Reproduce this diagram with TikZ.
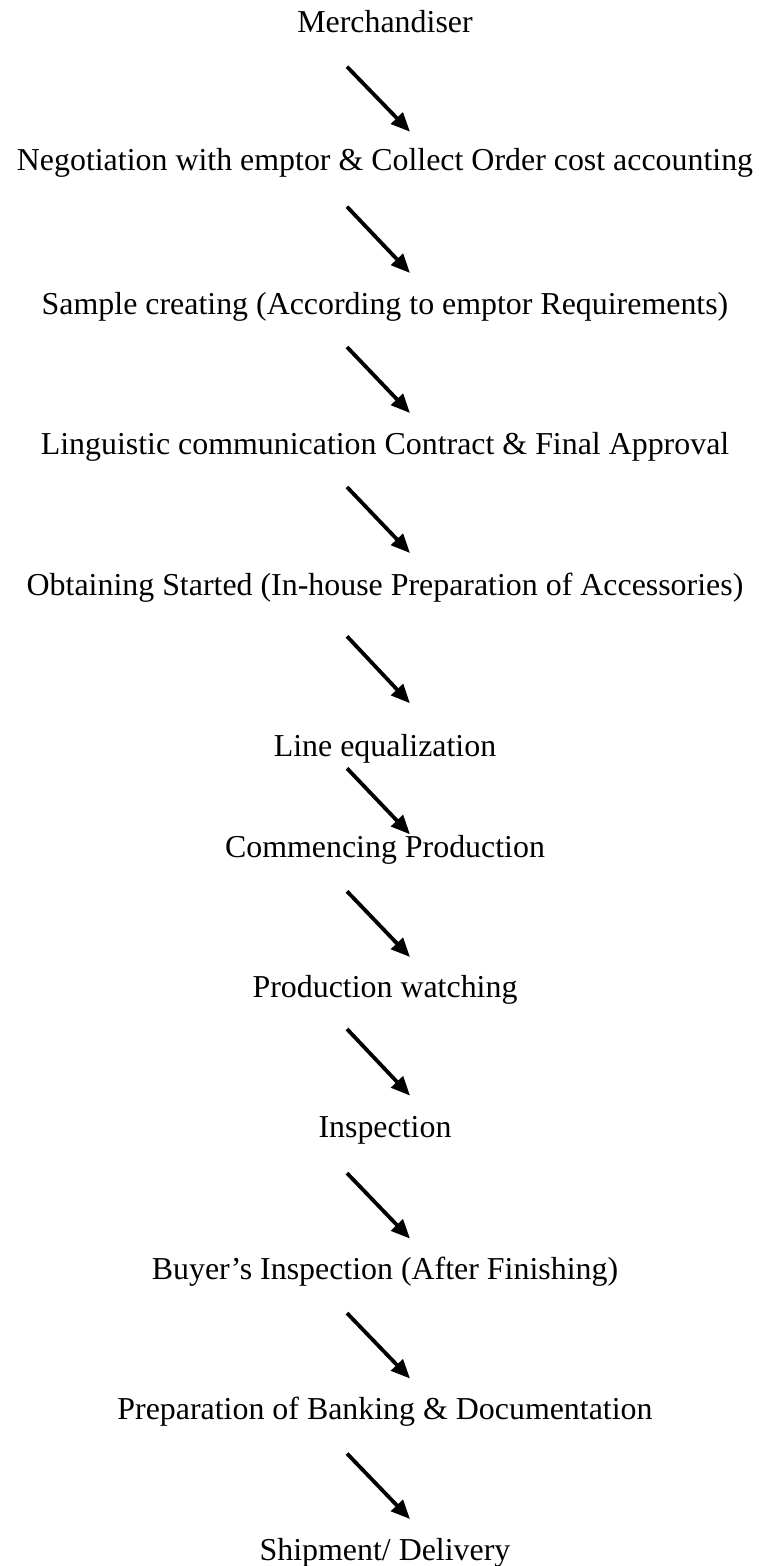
\documentclass[tikz,border=0pt]{standalone}
\usepackage{fontspec}
\setmainfont{Liberation Serif}
\usepackage{tikz}
\usetikzlibrary{arrows.meta,positioning}

\begin{document}
\begin{tikzpicture}[
  x=1pt, y=1pt,
  stage/.style={inner sep=0pt, anchor=base, font=\fontsize{31.9}{38}\selectfont},
  flow/.style={-{Triangle[length=19pt,width=16pt]}, line width=3.8pt, black}
]
\useasboundingbox (0,0) rectangle (758,-1566);

\node[stage] (merch) at (385,-32.3) {Merchandiser};
\node[stage, below=137.7pt of merch.base, anchor=base] (nego) {Negotiation with emptor \& Collect Order cost accounting};
\node[stage, below=144.3pt of nego.base, anchor=base] (sample) {Sample creating (According to emptor Requirements)};
\node[stage, below=140pt of sample.base, anchor=base] (contract) {Linguistic communication Contract \& Final Approval};
\node[stage, below=141pt of contract.base, anchor=base] (obtain) {Obtaining Started (In-house Preparation of Accessories)};
\node[stage, below=161pt of obtain.base, anchor=base] (lineq) {Line equalization};
\node[stage, below=101pt of lineq.base, anchor=base] (commence) {Commencing Production};
\node[stage, below=139.7pt of commence.base, anchor=base] (watch) {Production watching};
\node[stage, below=140.6pt of watch.base, anchor=base] (inspect) {Inspection};
\node[stage, below=142pt of inspect.base, anchor=base] (buyer) {Buyer’s Inspection (After Finishing)};
\node[stage, below=139.4pt of buyer.base, anchor=base] (bank) {Preparation of Banking \& Documentation};
\node[stage, below=141.3pt of bank.base, anchor=base] (ship) {Shipment/ Delivery};

% diagonal arrows between the steps
\draw[flow] ([shift={(-38,-34.4)}]merch.base) -- ([shift={(25,38.3)}]nego.base);
\draw[flow] ([shift={(-38,-36.7)}]nego.base) -- ([shift={(25,41.3)}]sample.base);
\draw[flow] ([shift={(-38,-32.7)}]sample.base) -- ([shift={(25,41.3)}]contract.base);
\draw[flow] ([shift={(-38,-32.7)}]contract.base) -- ([shift={(25,42.3)}]obtain.base);
\draw[flow] ([shift={(-38,-41)}]obtain.base) -- ([shift={(25,53)}]lineq.base);
\draw[flow] ([shift={(-38,-12)}]lineq.base) -- ([shift={(25,23)}]commence.base);
\draw[flow] ([shift={(-38,-34)}]commence.base) -- ([shift={(25,40)}]watch.base);
\draw[flow] ([shift={(-38,-32)}]watch.base) -- ([shift={(25,42)}]inspect.base);
\draw[flow] ([shift={(-38,-35.5)}]inspect.base) -- ([shift={(25,41)}]buyer.base);
\draw[flow] ([shift={(-38,-33.5)}]buyer.base) -- ([shift={(25,40.5)}]bank.base);
\draw[flow] ([shift={(-38,-34.5)}]bank.base) -- ([shift={(25,41.3)}]ship.base);
\end{tikzpicture}
\end{document}
